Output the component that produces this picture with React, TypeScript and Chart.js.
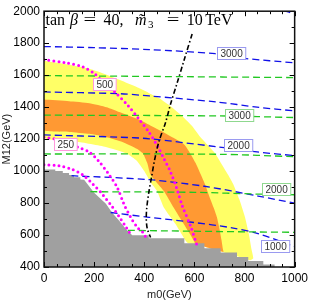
import React, { useEffect, useRef } from 'react';
import { Chart, registerables } from 'chart.js';

Chart.register(...registerables);

// ---- axis ranges ----
const xMin = 0, xMax = 1000, xStep = 200;
const yMin = 400, yMax = 2000, yStep = 200;

// ---- bands (closed outlines, m0 / M12) ----
const yellowM0 = [0, 90, 181, 250, 313, 379, 420, 460, 505, 550, 590, 620, 655, 683, 710, 735, 756, 780, 802, 818, 828, 835, 822, 770, 709, 617, 575, 564, 524, 478, 451, 425, 400, 370, 330, 247, 128, 0, 0];
const yellowM12 = [1690, 1668, 1640, 1603, 1563, 1519, 1487, 1455, 1405, 1346, 1283, 1220, 1160, 1110, 1040, 975, 915, 820, 711, 600, 510, 455, 443, 468, 496, 537, 548, 567, 670, 772, 875, 930, 1000, 1065, 1110, 1151, 1185, 1212, 1690];

const orangeM0 = [0, 100, 181, 250, 300, 379, 430, 480, 525, 560, 580, 605, 625, 643, 660, 677, 690, 700, 708, 714, 716, 709, 660, 617, 605, 597, 557, 517, 478, 425, 412, 395, 370, 313, 250, 181, 100, 0, 0];
const orangeM12 = [1447, 1437, 1425, 1400, 1370, 1322, 1280, 1240, 1200, 1165, 1120, 1050, 980, 915, 840, 770, 711, 640, 570, 510, 494, 497, 518, 537, 540, 567, 670, 772, 875, 977, 1050, 1110, 1140, 1182, 1212, 1233, 1245, 1257, 1447];

// ---- excluded (gray) region upper edge ----
const grayM0 = [0, 45, 45, 75, 75, 100, 100, 120, 120, 145, 145, 160, 180, 200, 247, 272, 300, 326, 345, 352, 380, 418, 418, 560, 560, 640, 640, 705, 705, 770, 770, 815, 815, 875, 875, 920, 920, 1000];
const grayM12 = [1010, 1010, 1000, 1000, 988, 988, 975, 975, 962, 962, 948, 945, 905, 865, 795, 740, 690, 640, 610, 598, 598, 598, 580, 580, 548, 548, 518, 518, 490, 490, 463, 463, 438, 438, 416, 416, 400, 400];

// ---- magenta dotted contours ----
const mag500M0 = [0, 88, 154, 200, 240, 286, 335, 379, 419, 451, 478, 504, 530, 551, 584, 610];
const mag500M12 = [1697, 1677, 1652, 1611, 1550, 1489, 1410, 1325, 1243, 1161, 1079, 997, 890, 785, 660, 537];
const mag250M0 = [0, 45, 85, 134, 180, 220, 260, 293, 319, 346, 372, 399, 405];
const mag250M12 = [1212, 1200, 1180, 1150, 1120, 1059, 977, 895, 793, 711, 649, 609, 590];
const magLowM0 = [0, 60, 110, 154, 194, 233, 273, 300, 325, 340, 348];
const magLowM12 = [1040, 1034, 1012, 977, 920, 855, 775, 715, 655, 618, 600];

// ---- black dash-dot line ----
const ddM0 = [591, 560, 531, 505, 485, 458, 440, 430, 419, 410, 408, 412, 425];
const ddM12 = [1857, 1700, 1550, 1420, 1304, 1182, 1060, 970, 875, 770, 700, 640, 585];

// ---- blue dashed contours ----
const blue0M0 = [955, 1000];
const blue0M12 = [2003, 1984];
const blue1M0 = [0, 200, 420, 683, 800, 1000];
const blue1M12 = [1779, 1772, 1760, 1734, 1705, 1677];
const blue2M0 = [0, 300, 420, 690, 850, 1000];
const blue2M12 = [1495, 1484, 1470, 1432, 1400, 1376];
const blue3M0 = [0, 300, 420, 696, 850, 1000];
const blue3M12 = [1226, 1212, 1202, 1151, 1120, 1096];
const blue4M0 = [110, 420, 640, 854, 1000];
const blue4M12 = [971, 946, 905, 844, 799];
const blue5M0 = [266, 419, 590, 750, 854, 1000];
const blue5M12 = [741, 711, 680, 645, 609, 527];

// ---- green dashed contours ----
const green1M0 = [0, 420, 1000];
const green1M12 = [1597, 1592, 1585];
const green2M0 = [0, 700, 1000];
const green2M12 = [1350, 1345, 1335];
const green3M0 = [0, 700, 1000];
const green3M12 = [1107, 1105, 1090];
const green4M0 = [185, 600, 854, 1000];
const green4M12 = [871, 867, 856, 852];
const green5M0 = [335, 854, 1000];
const green5M12 = [629, 619, 617];

// ---- contour labels ----
const labelTexts = ['3000', '3000', '2000', '2000', '1000', '500', '250'];
const labelM0 = [745, 777, 775, 928, 923, 242, 85];
const labelM12 = [1741, 1349, 1166, 891, 533, 1543, 1167];
const labelKind = ['blue', 'green', 'blue', 'green', 'blue', 'magenta', 'magenta'];

const COLORS = {
  yellow: '#ffff66',
  orange: '#ff9933',
  gray: '#a0a0a0',
  blue: '#1010e8',
  green: '#22c822',
  magenta: '#ff00ff',
  black: '#000000',
};
const LABEL_BORDER: Record<string, string> = {
  blue: '#9a9af0',
  green: '#8fd88f',
  magenta: '#ff99dd',
};

const zip = (xs: number[], ys: number[]) => xs.map((x, i) => ({ x, y: ys[i] }));

const SANS = '"Liberation Sans", Arial, Helvetica, sans-serif';
const SERIF = '"Liberation Serif", "Times New Roman", serif';

function dashed(xs: number[], ys: number[], color: string) {
  return {
    data: zip(xs, ys),
    borderColor: color,
    borderWidth: 1.3,
    borderDash: [7, 4],
    pointRadius: 0,
    fill: false,
    tension: 0.3,
    order: 5,
    clip: 0,
  };
}

function dotted(xs: number[], ys: number[]) {
  return {
    data: zip(xs, ys),
    borderColor: COLORS.magenta,
    borderWidth: 3,
    borderDash: [0, 5],
    borderCapStyle: 'round',
    pointRadius: 0,
    fill: false,
    tension: 0.3,
    order: 3,
    clip: 0,
  };
}

const overlayPlugin = {
  id: 'overlay',
  afterDatasetsDraw(chart: any) {
    const { ctx, chartArea: a, scales } = chart;
    const xs = scales.x;
    const ys = scales.y;
    ctx.save();

    // contour labels
    ctx.font = `10px ${SANS}`;
    ctx.textAlign = 'center';
    ctx.textBaseline = 'middle';
    for (let i = 0; i < labelTexts.length; i++) {
      const px = xs.getPixelForValue(labelM0[i]);
      const py = ys.getPixelForValue(labelM12[i]);
      const w = ctx.measureText(labelTexts[i]).width + 6;
      const h = 12;
      const l = Math.round(px - w / 2) + 0.5;
      const t = Math.round(py - h / 2) + 0.5;
      ctx.fillStyle = '#ffffff';
      ctx.fillRect(l, t, w, h);
      ctx.strokeStyle = LABEL_BORDER[labelKind[i]];
      ctx.lineWidth = 1;
      ctx.strokeRect(l, t, w, h);
      ctx.fillStyle = '#333333';
      ctx.fillText(labelTexts[i], l + w / 2, t + h / 2 + 0.5);
    }

    // title inside plot
    ctx.fillStyle = '#000';
    ctx.textAlign = 'left';
    ctx.textBaseline = 'alphabetic';
    const base = a.top + 13.8;
    const segs: { t: string; dx: number; f: string; dy?: number; sx?: number }[] = [
      { t: 'tan', dx: 1.5, f: `16px ${SERIF}` },
      { t: 'β', dx: 26, f: `italic 16px ${SERIF}` },
      { t: '=', dx: 39.5, f: `16px ${SERIF}`, sx: 1.4 },
      { t: '40,', dx: 59.5, f: `16px ${SERIF}` },
      { t: 'm\u0303', dx: 91, f: `italic 16px ${SERIF}` },
      { t: '3', dx: 104, f: `11px ${SERIF}`, dy: 3 },
      { t: '=', dx: 122.8, f: `16px ${SERIF}`, sx: 1.4 },
      { t: '10', dx: 142.8, f: `16px ${SERIF}` },
      { t: 'TeV', dx: 161.2, f: `16px ${SERIF}` },
    ];
    for (const s of segs) {
      ctx.font = s.f;
      if (s.sx) {
        ctx.save();
        ctx.translate(a.left + s.dx, base + (s.dy || 0));
        ctx.scale(s.sx, 1);
        ctx.fillText(s.t, 0, 0);
        ctx.restore();
      } else {
        ctx.fillText(s.t, a.left + s.dx, base + (s.dy || 0));
      }
    }

    // ticks (inward, all four sides)
    ctx.strokeStyle = '#000';
    ctx.lineWidth = 1;
    ctx.beginPath();
    for (let v = xMin; v <= xMax; v += 50) {
      const px = Math.round(xs.getPixelForValue(v)) + 0.5;
      const len = v % 200 === 0 ? 5 : 3;
      ctx.moveTo(px, a.bottom);
      ctx.lineTo(px, a.bottom - len);
      ctx.moveTo(px, a.top);
      ctx.lineTo(px, a.top + len);
    }
    for (let v = yMin; v <= yMax; v += 100) {
      const py = Math.round(ys.getPixelForValue(v)) + 0.5;
      const len = v % 200 === 0 ? 5 : 3;
      ctx.moveTo(a.left, py);
      ctx.lineTo(a.left + len, py);
      ctx.moveTo(a.right, py);
      ctx.lineTo(a.right - len, py);
    }
    ctx.stroke();

    // frame
    ctx.lineWidth = 1.5;
    ctx.strokeStyle = '#111';
    ctx.strokeRect(a.left, a.top, a.right - a.left, a.bottom - a.top);
    ctx.restore();
  },
};

export default function App() {
  const ref = useRef<HTMLCanvasElement>(null);

  useEffect(() => {
    const canvas = ref.current;
    if (!canvas) return;
    const chart = new Chart(canvas, {
      type: 'line',
      data: {
        datasets: [
          {
            data: zip(yellowM0, yellowM12),
            backgroundColor: COLORS.yellow,
            borderColor: 'rgba(0,0,0,0)',
            borderWidth: 0,
            pointRadius: 0,
            fill: 'shape',
            tension: 0.15,
            order: 10,
          } as any,
          {
            data: zip(orangeM0, orangeM12),
            backgroundColor: COLORS.orange,
            borderColor: 'rgba(0,0,0,0)',
            borderWidth: 0,
            pointRadius: 0,
            fill: 'shape',
            tension: 0.15,
            order: 9,
          } as any,
          {
            data: zip(grayM0, grayM12),
            backgroundColor: COLORS.gray,
            borderColor: 'rgba(0,0,0,0)',
            borderWidth: 0,
            pointRadius: 0,
            fill: 'start',
            tension: 0,
            order: 8,
          } as any,
          dashed(green1M0, green1M12, COLORS.green),
          dashed(green2M0, green2M12, COLORS.green),
          dashed(green3M0, green3M12, COLORS.green),
          dashed(green4M0, green4M12, COLORS.green),
          dashed(green5M0, green5M12, COLORS.green),
          dashed(blue0M0, blue0M12, COLORS.blue),
          dashed(blue1M0, blue1M12, COLORS.blue),
          dashed(blue2M0, blue2M12, COLORS.blue),
          dashed(blue3M0, blue3M12, COLORS.blue),
          dashed(blue4M0, blue4M12, COLORS.blue),
          dashed(blue5M0, blue5M12, COLORS.blue),
          dotted(mag500M0, mag500M12),
          dotted(mag250M0, mag250M12),
          dotted(magLowM0, magLowM12),
          {
            data: zip(ddM0, ddM12),
            borderColor: COLORS.black,
            borderWidth: 1.6,
            borderDash: [5, 2.5, 1.5, 2.5],
            pointRadius: 0,
            fill: false,
            tension: 0.3,
            order: 2,
            clip: 0,
          } as any,
        ] as any,
      },
      options: {
        responsive: false,
        maintainAspectRatio: false,
        animation: false,
        devicePixelRatio: 1,
        events: [],
        layout: { padding: { top: 7, right: 15, bottom: 0, left: 0 } },
        plugins: {
          legend: { display: false },
          tooltip: { enabled: false },
          title: { display: false },
        },
        scales: {
          x: {
            type: 'linear',
            min: xMin,
            max: xMax,
            grid: { display: false, drawTicks: false },
            border: { display: false },
            ticks: {
              stepSize: xStep,
              color: '#000',
              padding: 4,
              maxRotation: 0,
              autoSkip: false,
              font: { size: 12, family: SANS },
              callback: (v: any) => String(v),
            },
            title: {
              display: true,
              text: 'm0(GeV)',
              color: '#222',
              font: { size: 11, family: SANS },
              padding: { top: 0, bottom: 2 },
            },
            afterFit: (s: any) => {
              s.height = 37;
            },
          },
          y: {
            type: 'linear',
            min: yMin,
            max: yMax,
            grid: { display: false, drawTicks: false },
            border: { display: false },
            ticks: {
              stepSize: yStep,
              color: '#000',
              padding: 4,
              autoSkip: false,
              font: { size: 12, family: SANS },
              callback: (v: any) => String(v),
            },
            title: {
              display: true,
              text: 'M12(GeV)',
              color: '#222',
              font: { size: 11, family: SANS },
              padding: { top: 0, bottom: 0 },
            },
            afterFit: (s: any) => {
              s.width = 44;
            },
          },
        },
      } as any,
      plugins: [overlayPlugin],
    });
    return () => chart.destroy();
  }, []);

  return (
    <div style={{ position: 'fixed', left: 0, top: 0, width: 312, height: 304, background: '#fff' }}>
      <canvas ref={ref} width={312} height={304} style={{ display: 'block', width: 312, height: 304 }} />
    </div>
  );
}
